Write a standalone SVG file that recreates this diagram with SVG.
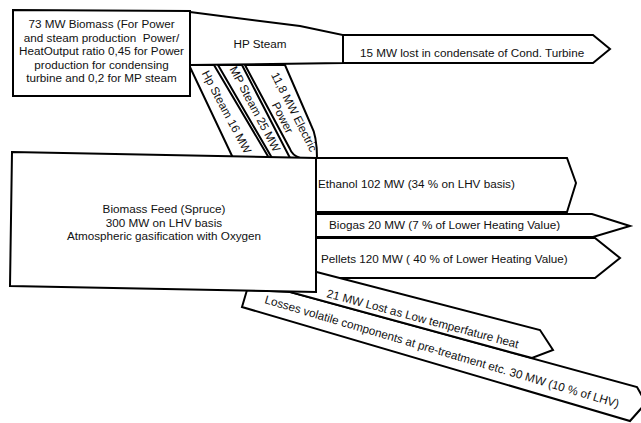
<svg xmlns="http://www.w3.org/2000/svg" width="641" height="423" viewBox="0 0 641 423">
<style>
.b{fill:#fff;stroke:#000;stroke-width:2;stroke-linejoin:miter}
.t{font-family:"Liberation Sans",Arial,sans-serif;font-size:11.7px;fill:#111}
.m{text-anchor:middle}
</style>
<rect width="641" height="423" fill="#fff"/>
<g id="connectors">
  <g id="ethanol"><polygon class="b" points="316,158 567,158 576,183 567,212 316,212"/>
    <text class="t" x="318" y="188">Ethanol 102 MW (34 % on LHV basis)</text></g>
  <g id="biogas"><polygon class="b" points="316,214 592,214 630,226 593,237 316,237"/>
    <text class="t" x="329" y="229">Biogas 20 MW (7 % of Lower Heating Value)</text></g>
  <g id="pellets"><polygon class="b" points="316,238 595,238 620,258 595,278 316,278"/>
    <text class="t" x="321" y="263">Pellets 120 MW ( 40 % of Lower Heating Value)</text></g>
  <g id="losses"><polygon class="b" points="247,290 290,292 637,387 646,403 630,421 242,307"/>
    <text class="t" transform="translate(264,303) rotate(16.5)" font-size="11">Losses volatile components at pre-treatment etc. 30 MW (10 % of LHV)</text></g>
  <g id="lowtemp"><polygon class="b" points="305,269 540,330 553,350 532,358 290,292"/>
    <text class="t" transform="translate(326,297) rotate(15)" font-size="11">21 MW Lost as Low temperfature heat</text></g>
  <g id="hp16"><polygon class="b" points="189,65 214,65 269,158 233,158"/>
    <text class="t m" transform="translate(226.6,112) rotate(62)" y="4">Hp Steam 16 MW</text></g>
  <g id="mp25"><polygon class="b" points="218,65 242,65 290,158 272,158"/>
    <text class="t m" transform="translate(255,109) rotate(62)" y="4">MP Steam 25 MW</text></g>
  <g id="power"><path class="b" d="M245,65 L285,65 L311,125 Q317,136 317,158 L300,158 Q292,155 290,149 Z"/>
    <text class="t m" transform="translate(288,115) rotate(63)" font-size="11.4"><tspan x="0" y="-3">11,8 MW Electric</tspan><tspan x="0" y="10">Power</tspan></text></g>
  <g id="hpsteam"><polygon class="b" points="190,12 300,26 343,35 343,63 190,65"/>
    <text class="t m" x="260" y="48">HP Steam</text></g>
  <g id="condensate"><polygon class="b" points="343,35 593,35 610,49 593,63 343,63"/>
    <text class="t" x="360" y="57">15 MW lost in condensate of Cond. Turbine</text></g>
</g>
<g id="node-chp">
  <polygon class="b" points="13,10 190,11 190,96 13,96"/>
  <text class="t m" font-size="11.4"><tspan x="101.5" y="28">73 MW Biomass (For Power</tspan><tspan x="101.5" y="41.5">and steam production&#160; Power/</tspan><tspan x="101.5" y="55">HeatOutput ratio 0,45 for Power</tspan><tspan x="101.5" y="68.5">production for condensing</tspan><tspan x="101.5" y="82">turbine and 0,2 for MP steam</tspan></text>
</g>
<g id="node-feed">
  <polygon class="b" points="12,152 316,158 316,292 10,286"/>
  <text class="t m"><tspan x="164" y="213">Biomass Feed (Spruce)</tspan><tspan x="164" y="226.5">300 MW on LHV basis</tspan><tspan x="164" y="240">Atmospheric gasification with Oxygen</tspan></text>
</g>
</svg>
